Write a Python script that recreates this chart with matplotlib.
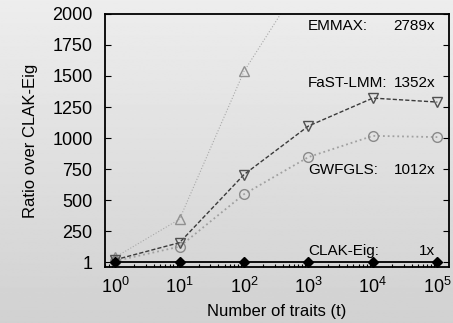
import numpy as np
import matplotlib
matplotlib.use('Agg')
import matplotlib.pyplot as plt

plt.rcParams['font.family'] = ['Liberation Sans', 'DejaVu Sans']
plt.rcParams['mathtext.fontset'] = 'custom'
plt.rcParams['mathtext.rm'] = 'Liberation Sans'
plt.rcParams['mathtext.it'] = 'Liberation Sans:italic'

traits = [1, 10, 100, 1000, 10000, 100000]
emmax = [40, 347, 1537, 2350, 2750, 2789]
fastlmm = [20, 158, 706, 1097, 1322, 1290]
gwfgls = [10, 126, 548, 847, 1018, 1008]
clak = [1, 1, 1, 1, 1, 1]

names = ['EMMAX:', 'FaST-LMM:', 'GWFGLS:', 'CLAK-Eig:']
speedups = ['2789x', '1352x', '1012x', '1x']
label_y = [1900, 1440, 745, 90]

yticks = [1, 250, 500, 750, 1000, 1250, 1500, 1750, 2000]

fig = plt.figure(figsize=(4.53, 3.23), dpi=100)

# grey gradient background
bg = fig.add_axes([0, 0, 1, 1])
grad = np.linspace(0.93, 0.82, 256).reshape(-1, 1)
bg.imshow(grad, cmap='gray', vmin=0, vmax=1, aspect='auto', extent=[0, 1, 0, 1])
bg.axis('off')

ax = fig.add_axes([0.232, 0.173, 0.759, 0.784])
ax.patch.set_alpha(0)

ax.plot(traits, emmax, ls=':', lw=0.8, color='#a8a8a8', marker='^', ms=7,
        mfc='none', mec='#909090', mew=1.0)
ax.plot(traits, gwfgls, ls=':', lw=1.3, color='#a0a0a0', marker='o', ms=7,
        mfc='none', mec='#8a8a8a', mew=1.0)
ax.plot(traits, fastlmm, ls='--', lw=1.0, color='#3a3a3a', marker='v', ms=7,
        mfc='none', mec='#505050', mew=1.0, dashes=(3, 1.5))
ax.plot(traits, clak, ls='-', lw=1.3, color='black', marker='D', ms=5,
        mfc='black', mec='black')

ax.set_xscale('log')
ax.set_xlim(10 ** -0.155, 10 ** 5.18)
ax.set_ylim(-39, 2000)
ax.set_yticks(yticks)
ax.set_xticks(traits)

ax.tick_params(axis='both', which='both', direction='in', labelsize=13,
               right=True, top=False)
ax.tick_params(axis='both', which='major', length=4, width=0.8)
ax.tick_params(axis='y', which='major', pad=9)
ax.tick_params(axis='x', which='major', pad=7)
ax.tick_params(axis='x', which='minor', length=2.5, width=0.8)
for s in ax.spines.values():
    s.set_linewidth(1.3)
    s.set_color('black')

ax.set_xlabel('Number of traits (t)', fontsize=12, labelpad=5)
ax.set_ylabel('Ratio over CLAK-Eig', fontsize=12, labelpad=10)

for n, sp, y in zip(names, speedups, label_y):
    ax.text(0.59, y, n, transform=ax.get_yaxis_transform(), fontsize=11,
            va='center', ha='left')
    ax.text(0.96, y, sp, transform=ax.get_yaxis_transform(), fontsize=11,
            va='center', ha='right')

fig.savefig('out.png', dpi=100)
